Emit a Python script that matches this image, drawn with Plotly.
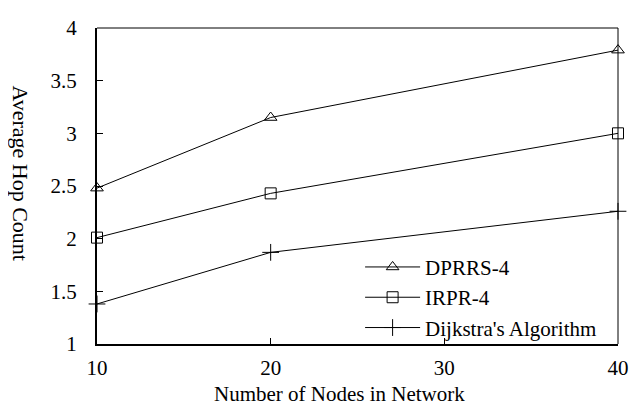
import plotly.graph_objects as go

nodes = [10, 20, 40]
dprrs = [2.48, 3.15, 3.79]
irpr = [2.01, 2.43, 3.00]
dijkstra = [1.38, 1.87, 2.26]
names = ["DPRRS-4", "IRPR-4", "Dijkstra's Algorithm"]
x_ticks = [10, 20, 30, 40]
y_ticks = [1, 1.5, 2, 2.5, 3, 3.5, 4]
y_ticklabels = ["1", "1.5", "2", "2.5", "3", "3.5", "4"]

FONT = "Liberation Serif, Times New Roman, serif"
FS = 21

fig = go.Figure()
series = [dprrs, irpr, dijkstra]
symbols = ["triangle-up-open", "square-open", "cross-thin-open"]
sizes = [11, 11, 12]
for i, (vals, nm, sym, sz) in enumerate(zip(series, names, symbols, sizes)):
    fig.add_trace(go.Scatter(
        x=nodes, y=vals, name=nm, mode="lines+markers",
        line=dict(color="black", width=1),
        marker=dict(symbol=sym, size=sz, color="black", line=dict(color="black", width=1)),
        legendgroup=str(i), cliponaxis=False,
    ))

fig.update_layout(
    width=629, height=400,
    margin=dict(l=89, r=13, t=8, b=64),
    paper_bgcolor="white", plot_bgcolor="white",
    font=dict(family=FONT, size=FS, color="black"),
    showlegend=True,
    legend=dict(x=0.505, y=-0.012, xanchor="left", yanchor="bottom",
                bgcolor="rgba(0,0,0,0)", font=dict(size=FS, family=FONT),
                traceorder="grouped", tracegroupgap=0, itemwidth=55),
    xaxis=dict(range=[10, 40], tickvals=x_ticks, ticks="inside", ticklen=6,
               tickcolor="black", showline=True, linecolor="black", linewidth=2,
               mirror=False, showgrid=False, zeroline=False, ticklabelstandoff=4,
               ticklabeloverflow="allow",
               tickfont=dict(size=FS, family=FONT)),
    yaxis=dict(range=[1, 4], tickvals=y_ticks, ticktext=y_ticklabels, ticks="inside", ticklen=6,
               tickcolor="black", showline=True, linecolor="black", linewidth=2,
               showgrid=False, zeroline=False, ticklabelstandoff=14,
               ticklabeloverflow="allow",
               tickfont=dict(size=FS, family=FONT)),
    shapes=[
        dict(type="line", xref="paper", yref="paper", x0=0, x1=1, y0=1, y1=1,
             line=dict(color="black", width=1)),
        dict(type="line", xref="paper", yref="paper", x0=1, x1=1, y0=0, y1=1,
             line=dict(color="black", width=1)),
    ],
    annotations=[
        dict(text="Average Hop Count", xref="paper", yref="paper",
             x=-0.146, y=0.54, xanchor="center", yanchor="middle",
             textangle=90, showarrow=False, font=dict(size=22, family=FONT)),
        dict(text="Number of Nodes in Network", xref="paper", yref="paper",
             x=0.465, y=-0.159, xanchor="center", yanchor="middle",
             showarrow=False, font=dict(size=FS, family=FONT)),
    ],
)

fig.write_html("out.html")
